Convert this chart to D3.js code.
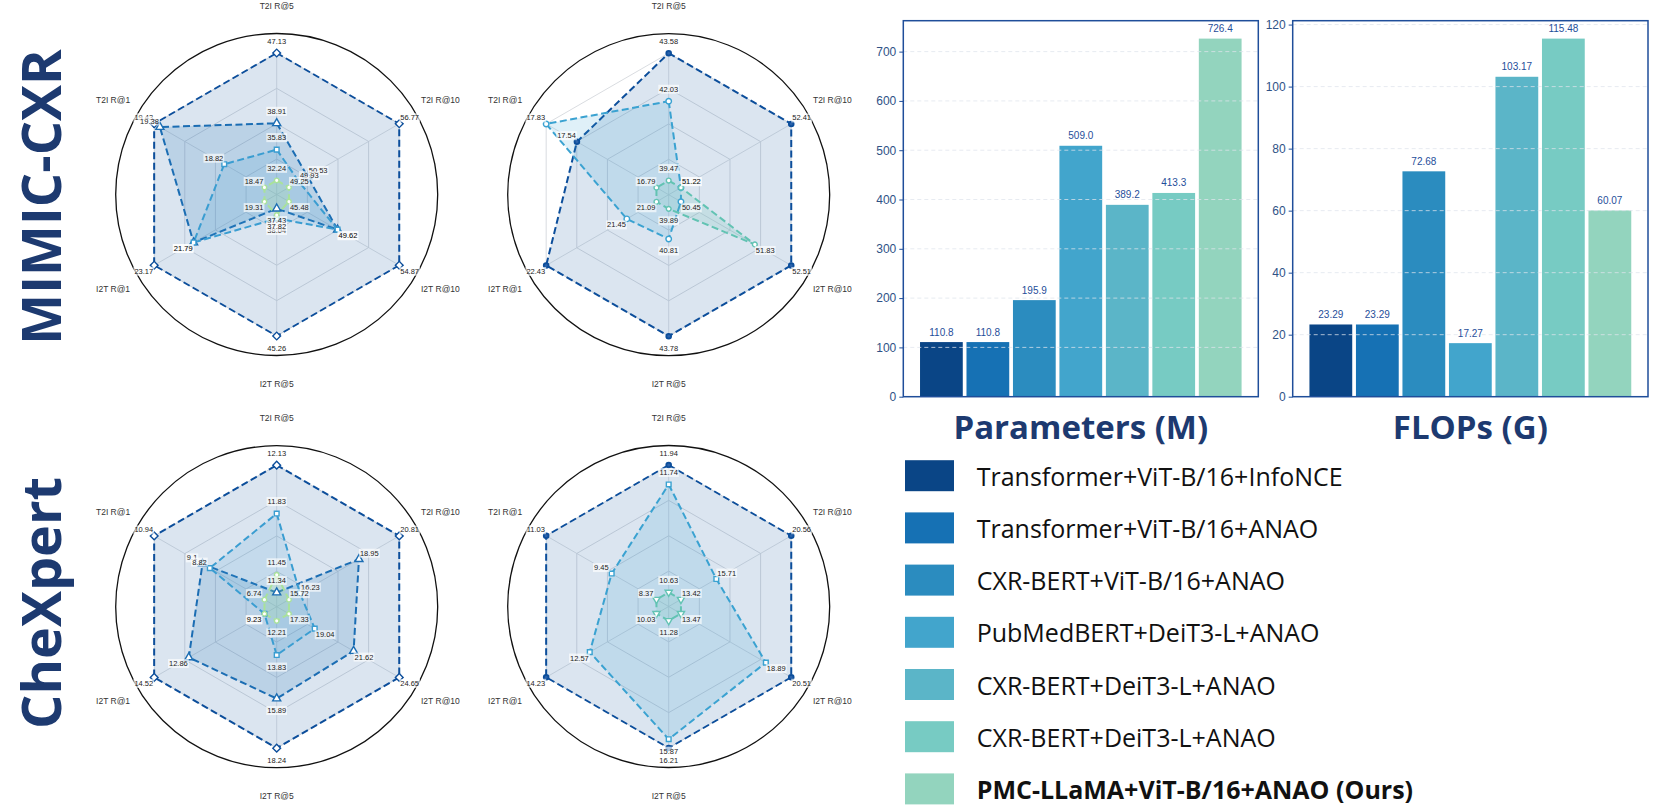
<!DOCTYPE html>
<html>
<head>
<meta charset="utf-8">
<script src="https://cdn.jsdelivr.net/npm/d3@7"></script>
<style>
  body { margin: 0; background: #fff; }
  svg { display: block; }
</style>
</head>
<body>
<svg id="fig" width="1653" height="811"></svg>
<script>
// ---- data ---------------------------------------------------------------
// radar axes, clockwise from the top
const AXES = ["T2I R@5", "T2I R@10", "I2T R@10", "I2T R@5", "I2T R@1", "T2I R@1"];

// MIMIC-CXR, left radar
const MIMIC_L_1 = [47.13, 56.77, 54.87, 45.26, 23.17, 19.43];
const MIMIC_L_2 = [38.91, 50.53, 49.62, 37.43, 21.79, 19.38];
const MIMIC_L_3 = [35.83, 49.93, 49.62, 38.04, 21.79, 18.82];
const MIMIC_L_4 = [32.24, 49.25, 45.48, 37.82, 19.31, 18.47];
// MIMIC-CXR, right radar
const MIMIC_R_1 = [43.58, 52.41, 52.51, 43.78, 22.43, 17.54];
const MIMIC_R_2 = [42.03, 51.22, 50.45, 40.81, 21.45, 17.83];
const MIMIC_R_3 = [39.47, 51.22, 51.83, 39.89, 21.09, 16.79];
// CheXpert, left radar
const CHEX_L_1 = [12.13, 20.81, 24.65, 18.24, 14.52, 10.94];
const CHEX_L_2 = [11.34, 18.95, 21.62, 15.89, 12.86, 9.1];
const CHEX_L_3 = [11.83, 16.23, 19.04, 13.83, 9.23, 8.82];
const CHEX_L_4 = [11.45, 15.72, 17.33, 12.21, 9.23, 6.74];
// CheXpert, right radar
const CHEX_R_1 = [11.94, 20.56, 20.51, 16.21, 14.23, 11.03];
const CHEX_R_2 = [11.74, 15.71, 18.89, 15.87, 12.57, 9.45];
const CHEX_R_3 = [10.63, 13.42, 13.47, 11.28, 10.03, 8.37];

// bar charts + legend
const MODELS = [
  "Transformer+ViT-B/16+InfoNCE",
  "Transformer+ViT-B/16+ANAO",
  "CXR-BERT+ViT-B/16+ANAO",
  "PubMedBERT+DeiT3-L+ANAO",
  "CXR-BERT+DeiT3-L+ANAO",
  "CXR-BERT+DeiT3-L+ANAO",
  "PMC-LLaMA+ViT-B/16+ANAO (Ours)"
];
const PARAMS = [110.8, 110.8, 195.9, 509.0, 389.2, 413.3, 726.4];
const FLOPS = [23.29, 23.29, 72.68, 17.27, 103.17, 115.48, 60.07];
const PARAM_TICKS = [0, 100, 200, 300, 400, 500, 600, 700];
const FLOP_TICKS = [0, 20, 40, 60, 80, 100, 120];
const BAR_COLORS = ["#0a4586", "#1671b4", "#2b8cbf", "#42a5cc", "#5bb5c8", "#77cbc3", "#93d4be"];

// ---- styles -------------------------------------------------------------
const NAVY = "#0c4e9b";
const STYLE_A = [
  { color: NAVY,      fo: 0.15, marker: "diamond",  size: 30 },
  { color: "#1b6db3", fo: 0.16, marker: "triangle", size: 28 },
  { color: "#3a9dd1", fo: 0.14, marker: "square",   size: 22 },
  { color: "#a9e29a", fo: 0.22, marker: "circle",   size: 16 }
];
const STYLE_B = [
  { color: NAVY,      fo: 0.15, marker: "dot",      size: 18 },
  { color: "#3aa2d1", fo: 0.16, marker: "circle",   size: 24 },
  { color: "#62c3b3", fo: 0.18, marker: "circle",   size: 18 }
];
const STYLE_C = [
  { color: NAVY,      fo: 0.15, marker: "dot",      size: 18 },
  { color: "#3aa2d1", fo: 0.16, marker: "square",   size: 22 },
  { color: "#62c3b3", fo: 0.18, marker: "tridown",  size: 22 }
];

const svg = d3.select("#fig");
const SANS = "'Liberation Sans', Arial, sans-serif";
const UI = "'Open Sans', 'Noto Sans', sans-serif";

// ---- radar --------------------------------------------------------------
const R = 141.5, R_CIRCLE = 161, R_LABEL = 189;
const step = 2 * Math.PI / AXES.length;

function markerPath(type, size) {
  const map = {
    diamond: d3.symbolSquare, square: d3.symbolSquare, triangle: d3.symbolTriangle,
    tridown: d3.symbolTriangle, circle: d3.symbolCircle, dot: d3.symbolCircle
  };
  return d3.symbol().type(map[type]).size(size)();
}

function drawRadar(cx, cy, seriesList, styles) {
  const g = svg.append("g").attr("transform", `translate(${cx},${cy})`);

  // one scale per axis: min -> 0.1R, max -> R
  const scales = AXES.map((_, i) => {
    const vals = seriesList.map(s => s[i]);
    return d3.scaleLinear().domain(d3.extent(vals)).range([0.1 * R, R]);
  });

  const radial = d3.lineRadial()
    .angle((d, i) => i * step)
    .radius(d => d)
    .curve(d3.curveLinearClosed);

  g.append("circle").attr("r", R_CIRCLE)
    .attr("fill", "#fff").attr("stroke", "#111").attr("stroke-width", 1.3);

  // hexagonal grid
  [0.25, 0.5, 0.75, 1].forEach(f => {
    g.append("path").attr("d", radial(AXES.map(() => f * R)))
      .attr("fill", "none").attr("stroke", "#cfd3d8").attr("stroke-width", 0.8);
  });
  AXES.forEach((_, i) => {
    const a = i * step;
    g.append("line").attr("x1", 0).attr("y1", 0)
      .attr("x2", R * Math.sin(a)).attr("y2", -R * Math.cos(a))
      .attr("stroke", "#d6d9dd").attr("stroke-width", 0.8);
  });

  // axis names
  AXES.forEach((name, i) => {
    const a = i * step;
    g.append("text")
      .attr("x", R_LABEL * Math.sin(a)).attr("y", -R_LABEL * Math.cos(a))
      .attr("text-anchor", "middle").attr("dominant-baseline", "central")
      .attr("font-family", SANS).attr("font-size", "8.5px").attr("fill", "#333")
      .text(name);
  });

  const radii = seriesList.map(vals => vals.map((v, i) => scales[i](v)));

  // polygons
  radii.forEach((rs, k) => {
    const st = styles[k];
    g.append("path").attr("d", radial(rs))
      .attr("fill", st.color).attr("fill-opacity", st.fo)
      .attr("stroke", st.color).attr("stroke-width", 2)
      .attr("stroke-dasharray", "7,3.5");
  });

  // markers
  radii.forEach((rs, k) => {
    const st = styles[k];
    rs.forEach((r, i) => {
      const a = i * step;
      let rot = 0;
      if (st.marker === "diamond") rot = 45;
      if (st.marker === "tridown") rot = 180;
      g.append("path").attr("d", markerPath(st.marker, st.size))
        .attr("transform", `translate(${r * Math.sin(a)},${-r * Math.cos(a)}) rotate(${rot})`)
        .attr("fill", st.marker === "dot" ? "#2b62ab" : "#fff")
        .attr("stroke", st.color).attr("stroke-width", st.marker === "dot" ? 1.8 : 1.4);
    });
  });

  // value labels with a light box
  const lab = g.append("g");
  seriesList.forEach((vals, k) => {
    vals.forEach((v, i) => {
      const a = i * step, r = radii[k][i] + 12;
      const t = lab.append("text")
        .attr("x", r * Math.sin(a)).attr("y", -r * Math.cos(a))
        .attr("text-anchor", "middle").attr("dominant-baseline", "central")
        .attr("font-family", SANS).attr("font-size", "7.5px").attr("fill", "#222")
        .text(v);
      const bb = t.node().getBBox();
      lab.insert("rect", () => t.node())
        .attr("x", bb.x - 1).attr("y", bb.y).attr("width", bb.width + 2).attr("height", bb.height)
        .attr("fill", "#fff").attr("fill-opacity", 0.65);
    });
  });
}

drawRadar(276.7, 194.5, [MIMIC_L_1, MIMIC_L_2, MIMIC_L_3, MIMIC_L_4], STYLE_A);
drawRadar(668.7, 194.7, [MIMIC_R_1, MIMIC_R_2, MIMIC_R_3], STYLE_B);
drawRadar(276.7, 606.7, [CHEX_L_1, CHEX_L_2, CHEX_L_3, CHEX_L_4], STYLE_A);
drawRadar(668.7, 606.5, [CHEX_R_1, CHEX_R_2, CHEX_R_3], STYLE_C);

// row titles
[["MIMIC-CXR", 197], ["CheXpert", 603]].forEach(([txt, y]) => {
  svg.append("text")
    .attr("transform", `translate(61,${y}) rotate(-90)`)
    .attr("text-anchor", "middle")
    .attr("font-family", UI).attr("font-weight", "bold").attr("font-size", "54px")
    .attr("fill", "#1d3a70")
    .text(txt);
});

// ---- bars ---------------------------------------------------------------
const AXIS_BLUE = "#1f4e9a";

function drawBars(x0, x1, y0, y1, values, ticks, fmt, title) {
  const x = d3.scaleBand().domain(d3.range(values.length))
    .range([x0, x1]).paddingInner(0.08).paddingOuter(0.36);
  const y = d3.scaleLinear().domain([0, d3.max(values) * 1.05]).range([y1, y0]);
  const g = svg.append("g");

  g.selectAll("rect.bar").data(values).join("rect")
    .attr("class", "bar")
    .attr("x", (d, i) => x(i)).attr("width", x.bandwidth())
    .attr("y", d => y(d)).attr("height", d => y1 - y(d))
    .attr("fill", (d, i) => BAR_COLORS[i]);

  // grid on top of the bars
  g.selectAll("line.grid").data(ticks.filter(t => t > 0)).join("line")
    .attr("class", "grid")
    .attr("x1", x0).attr("x2", x1)
    .attr("y1", d => y(d)).attr("y2", d => y(d))
    .attr("stroke", "#dfe4ec").attr("stroke-opacity", 0.75)
    .attr("stroke-width", 1).attr("stroke-dasharray", "4,3");

  const ax = g.append("g").attr("transform", `translate(${x0},0)`)
    .call(d3.axisLeft(y).tickValues(ticks).tickSize(4).tickPadding(3).tickFormat(d3.format("d")));
  ax.select(".domain").remove();
  ax.selectAll("line").attr("stroke", AXIS_BLUE);
  ax.selectAll("text").attr("font-family", SANS).attr("font-size", "12px").attr("fill", "#2f5286");

  g.append("rect").attr("x", x0).attr("y", y0).attr("width", x1 - x0).attr("height", y1 - y0)
    .attr("fill", "none").attr("stroke", AXIS_BLUE).attr("stroke-width", 1.5);

  g.selectAll("text.val").data(values).join("text")
    .attr("class", "val")
    .attr("x", (d, i) => x(i) + x.bandwidth() / 2).attr("y", d => y(d) - 10)
    .attr("text-anchor", "middle").attr("dominant-baseline", "central")
    .attr("font-family", SANS).attr("font-size", "10px").attr("fill", AXIS_BLUE)
    .text(fmt);

  g.append("text")
    .attr("x", (x0 + x1) / 2).attr("y", 439)
    .attr("text-anchor", "middle")
    .attr("font-family", UI).attr("font-weight", "bold").attr("font-size", "33px")
    .attr("fill", "#1d3a70")
    .text(title);
}

drawBars(903.3, 1258.3, 20.7, 396.7, PARAMS, PARAM_TICKS, d => d.toFixed(1), "Parameters (M)");
drawBars(1292.7, 1648, 20.7, 396.7, FLOPS, FLOP_TICKS, d => d.toFixed(2), "FLOPs (G)");

// ---- legend -------------------------------------------------------------
const legend = svg.append("g");
MODELS.forEach((name, i) => {
  const cy = 475.7 + i * 52.2;
  legend.append("rect").attr("x", 905).attr("y", cy - 15.5).attr("width", 49).attr("height", 31)
    .attr("fill", BAR_COLORS[i]);
  legend.append("text").attr("x", 976.7).attr("y", cy)
    .attr("dominant-baseline", "central")
    .attr("font-family", UI).attr("font-size", "25px")
    .attr("font-weight", i === MODELS.length - 1 ? "bold" : "normal")
    .attr("fill", "#111")
    .text(name);
});
</script>
</body>
</html>
